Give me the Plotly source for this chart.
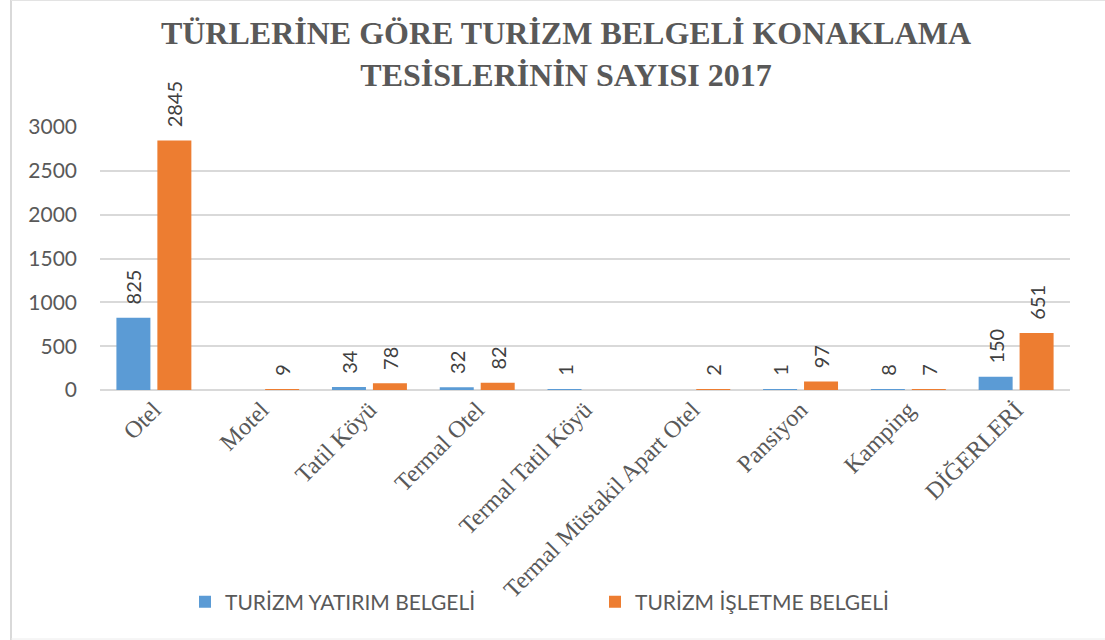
import plotly.graph_objects as go

categories = ["Otel", "Motel", "Tatil Köyü", "Termal Otel", "Termal Tatil Köyü",
              "Termal Müstakil Apart Otel", "Pansiyon", "Kamping", "DİĞERLERİ"]
yatirim = [825, None, 34, 32, 1, None, 1, 8, 150]
isletme = [2845, 9, 78, 82, None, 2, 97, 7, 651]
series_names = ["TURİZM YATIRIM BELGELİ", "TURİZM İŞLETME BELGELİ"]
y_ticks = [0, 500, 1000, 1500, 2000, 2500, 3000]
title_text = "TÜRLERİNE GÖRE TURİZM BELGELİ KONAKLAMA<br>TESİSLERİNİN SAYISI 2017"

W, H = 1105, 640
ML, MR, MT, MB = 100, 35, 127, 250
pw, ph = W - ML - MR, H - MT - MB


def px_x(p):
    return (p - ML) / pw


def px_y(p):
    return (H - MB - p) / ph


num_font = "Lato, 'Open Sans', sans-serif"
serif = "'Liberation Serif', 'Times New Roman', serif"
gray = "#595959"

fig = go.Figure()
for name, vals, col in [(series_names[0], yatirim, "#5B9BD5"),
                        (series_names[1], isletme, "#ED7D31")]:
    fig.add_trace(go.Bar(
        x=categories, y=vals, name=name,
        marker=dict(color=col, line=dict(width=0)),
        texttemplate="\u00a0\u00a0%{y}", textposition="outside", textangle=-90,
        constraintext="none",
        textfont=dict(family=num_font, size=20, color="#404040"),
        cliponaxis=False,
    ))

border = "#d9d9d9"
shapes = [
    dict(type="line", xref="paper", yref="paper", x0=px_x(11), x1=px_x(11),
         y0=px_y(0), y1=px_y(640), line=dict(color=border, width=2)),
    dict(type="line", xref="paper", yref="paper", x0=px_x(11), x1=px_x(1105),
         y0=px_y(0.5), y1=px_y(0.5), line=dict(color="#e3e3e3", width=1)),
    dict(type="line", xref="paper", yref="paper", x0=px_x(11), x1=px_x(1105),
         y0=px_y(639), y1=px_y(639), line=dict(color="#ececec", width=1)),
]

fig.update_layout(
    width=W, height=H,
    margin=dict(l=ML, r=MR, t=MT, b=MB, autoexpand=False),
    paper_bgcolor="white", plot_bgcolor="white",
    barmode="group", bargap=0.24, bargroupgap=0.17,
    title=dict(text=title_text, x=566 / W, xanchor="center", y=1 - 44 / H, yanchor="top",
               font=dict(family=serif, size=32, color=gray, weight="bold")),
    showlegend=True,
    legend=dict(orientation="h", xref="container", yref="container",
                x=185 / W, xanchor="left", y=1 - 602 / H, yanchor="middle",
                entrywidth=365, font=dict(family=num_font, size=21, color=gray),
                itemwidth=30, bgcolor="rgba(0,0,0,0)"),
    xaxis=dict(tickangle=-45, showgrid=False, showline=False, ticks="", automargin=False,
               tickfont=dict(family=serif, size=24, color=gray)),
    yaxis=dict(range=[0, 3000], tickvals=y_ticks, showgrid=True, gridcolor="#d9d9d9", gridwidth=1.5,
               zeroline=True, zerolinecolor="#d9d9d9", zerolinewidth=2, showline=False,
               ticklabelstandoff=22, automargin=False,
               tickfont=dict(family=num_font, size=21, color=gray)),
    shapes=shapes,
)

fig.write_html("out.html", config={"displayModeBar": False},
               post_script="document.body.style.margin='0';")
